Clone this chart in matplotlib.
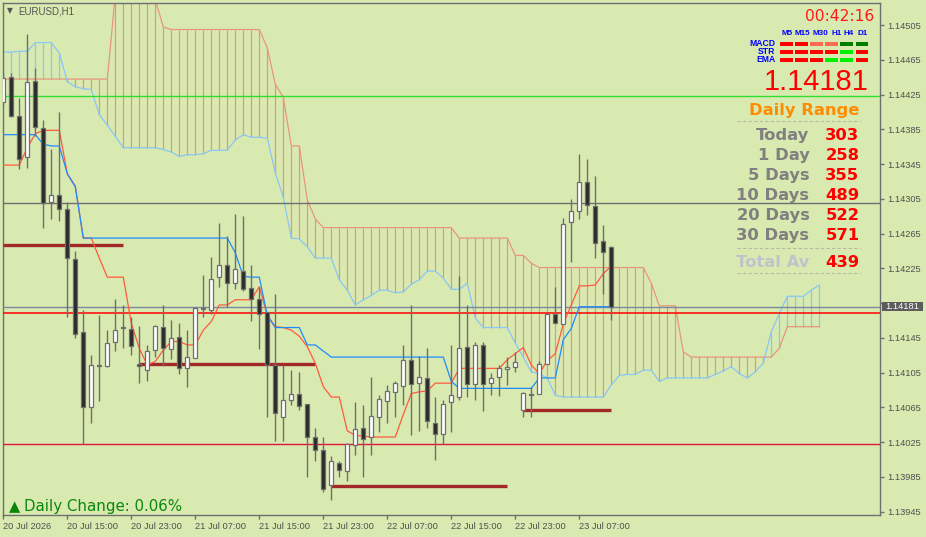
import matplotlib
matplotlib.use("Agg")
import matplotlib.pyplot as plt
from matplotlib.patches import Rectangle

W, H = 926, 537
BG = "#d9eab1"

# EURUSD H1 candles (oldest first)
opens = [1.14417, 1.14445, 1.14400, 1.14353, 1.14441, 1.14387, 1.14301, 1.14310, 1.14293, 1.14236,
         1.14152, 1.14066, 1.14113, 1.14113, 1.14140, 1.14156, 1.14155, 1.14115, 1.14108, 1.14131,
         1.14158, 1.14132, 1.14146, 1.14111, 1.14122, 1.14178, 1.14177, 1.14215, 1.14229, 1.14208,
         1.14222, 1.14202, 1.14190, 1.14175, 1.14114, 1.14054, 1.14074, 1.14080, 1.14069, 1.14031,
         1.14016, 1.13976, 1.14001, 1.13992, 1.14022, 1.14041, 1.14031, 1.14054, 1.14073, 1.14083,
         1.14090, 1.14120, 1.14093, 1.14099, 1.14047, 1.14034, 1.14071, 1.14077, 1.14135, 1.14092,
         1.14137, 1.14093, 1.14100, 1.14109, 1.14112, 1.14062, 1.14079, 1.14081, 1.14115, 1.14173,
         1.14161, 1.14279, 1.14291, 1.14324, 1.14297, 1.14257, 1.14250]
highs = [1.14450, 1.14450, 1.14421, 1.14495, 1.14456, 1.14396, 1.14362, 1.14405, 1.14301, 1.14245,
         1.14177, 1.14125, 1.14171, 1.14154, 1.14190, 1.14183, 1.14169, 1.14159, 1.14137, 1.14160,
         1.14183, 1.14166, 1.14162, 1.14154, 1.14181, 1.14217, 1.14238, 1.14277, 1.14262, 1.14288,
         1.14285, 1.14229, 1.14204, 1.14175, 1.14196, 1.14114, 1.14108, 1.14106, 1.14069, 1.14041,
         1.14031, 1.14009, 1.14003, 1.14024, 1.14071, 1.14068, 1.14100, 1.14079, 1.14091, 1.14096,
         1.14137, 1.14183, 1.14124, 1.14134, 1.14077, 1.14074, 1.14137, 1.14216, 1.14183, 1.14140,
         1.14140, 1.14105, 1.14114, 1.14123, 1.14129, 1.14083, 1.14089, 1.14118, 1.14174, 1.14204,
         1.14283, 1.14305, 1.14357, 1.14351, 1.14331, 1.14275, 1.14251]
lows = [1.14413, 1.14399, 1.14340, 1.14341, 1.14377, 1.14272, 1.14282, 1.14280, 1.14169, 1.14145,
        1.14023, 1.14047, 1.14072, 1.14112, 1.14130, 1.14134, 1.14125, 1.14093, 1.14096, 1.14123,
        1.14113, 1.14121, 1.14104, 1.14089, 1.14122, 1.14169, 1.14173, 1.14204, 1.14181, 1.14201,
        1.14199, 1.14164, 1.14132, 1.14054, 1.14026, 1.14026, 1.14068, 1.14062, 1.13985, 1.14003,
        1.13968, 1.13958, 1.13985, 1.13980, 1.14010, 1.13985, 1.14010, 1.14037, 1.14047, 1.14054,
        1.14068, 1.14033, 1.14038, 1.14041, 1.14005, 1.14023, 1.14037, 1.14074, 1.14077, 1.14074,
        1.14061, 1.14079, 1.14078, 1.14091, 1.14106, 1.14054, 1.14054, 1.14081, 1.14115, 1.14162,
        1.14161, 1.14232, 1.14282, 1.14286, 1.14237, 1.14196, 1.14166]
closes = [1.14444, 1.14400, 1.14351, 1.14440, 1.14388, 1.14300, 1.14310, 1.14293, 1.14237, 1.14150,
          1.14066, 1.14114, 1.14113, 1.14139, 1.14154, 1.14156, 1.14136, 1.14113, 1.14130, 1.14159,
          1.14133, 1.14145, 1.14111, 1.14123, 1.14179, 1.14178, 1.14213, 1.14229, 1.14208, 1.14224,
          1.14201, 1.14190, 1.14173, 1.14114, 1.14059, 1.14074, 1.14081, 1.14067, 1.14031, 1.14016,
          1.13971, 1.14003, 1.13993, 1.14023, 1.14040, 1.14029, 1.14055, 1.14075, 1.14084, 1.14093,
          1.14120, 1.14092, 1.14100, 1.14049, 1.14035, 1.14069, 1.14079, 1.14134, 1.14092, 1.14137,
          1.14092, 1.14099, 1.14110, 1.14112, 1.14117, 1.14082, 1.14081, 1.14115, 1.14173, 1.14162,
          1.14276, 1.14291, 1.14325, 1.14298, 1.14254, 1.14244, 1.14181]

# Ichimoku
tenkan = [1.14344, 1.14344, 1.14344, 1.14364, 1.14380, 1.14384, 1.14384, 1.14384, 1.14334, 1.14320,
          1.14260, 1.14260, 1.14237, 1.14215, 1.14215, 1.14215, 1.14162, 1.14133, 1.14114, 1.14118,
          1.14131, 1.14141, 1.14141, 1.14137, 1.14137, 1.14154, 1.14164, 1.14183, 1.14183, 1.14189,
          1.14189, 1.14189, 1.14204, 1.14171, 1.14158, 1.14157, 1.14154, 1.14147, 1.14135, 1.14116,
          1.14089, 1.14077, 1.14077, 1.14038, 1.14033, 1.14032, 1.14031, 1.14031, 1.14031, 1.14031,
          1.14057, 1.14081, 1.14083, 1.14084, 1.14093, 1.14093, 1.14093, 1.14110, 1.14110, 1.14110,
          1.14110, 1.14110, 1.14110, 1.14120, 1.14127, 1.14134, 1.14114, 1.14104, 1.14119, 1.14127,
          1.14161, 1.14183, 1.14205, 1.14205, 1.14206, 1.14219, 1.14228]
kijun = [1.14379, 1.14379, 1.14379, 1.14379, 1.14379, 1.14368, 1.14366, 1.14366, 1.14334, 1.14319,
         1.14260, 1.14260, 1.14260, 1.14260, 1.14260, 1.14260, 1.14260, 1.14260, 1.14260, 1.14260,
         1.14260, 1.14260, 1.14260, 1.14260, 1.14260, 1.14260, 1.14260, 1.14260, 1.14260, 1.14243,
         1.14216, 1.14215, 1.14215, 1.14171, 1.14157, 1.14157, 1.14157, 1.14157, 1.14137, 1.14137,
         1.14130, 1.14123, 1.14123, 1.14123, 1.14123, 1.14123, 1.14123, 1.14123, 1.14123, 1.14123,
         1.14123, 1.14123, 1.14123, 1.14123, 1.14123, 1.14123, 1.14095, 1.14087, 1.14087, 1.14087,
         1.14087, 1.14087, 1.14087, 1.14087, 1.14087, 1.14087, 1.14087, 1.14099, 1.14099, 1.14099,
         1.14143, 1.14156, 1.14181, 1.14181, 1.14181, 1.14181, 1.14181]
span_a = [1.14443, 1.14443, 1.14443, 1.14443, 1.14443, 1.14443, 1.14443, 1.14443, 1.14443, 1.14443,
          1.14443, 1.14443, 1.14443, 1.14443, 1.14540, 1.14560, 1.14560, 1.14560, 1.14560, 1.14534,
          1.14503, 1.14500, 1.14500, 1.14500, 1.14500, 1.14500, 1.14500, 1.14500, 1.14500, 1.14500,
          1.14500, 1.14500, 1.14500, 1.14479, 1.14437, 1.14422, 1.14366, 1.14366, 1.14304, 1.14282,
          1.14272, 1.14272, 1.14272, 1.14272, 1.14272, 1.14272, 1.14272, 1.14272, 1.14272, 1.14272,
          1.14272, 1.14272, 1.14272, 1.14272, 1.14272, 1.14272, 1.14272, 1.14260, 1.14260, 1.14260,
          1.14260, 1.14260, 1.14260, 1.14260, 1.14240, 1.14240, 1.14231, 1.14226, 1.14226, 1.14226,
          1.14226, 1.14226, 1.14226, 1.14226, 1.14226, 1.14226, 1.14226, 1.14226, 1.14226, 1.14226,
          1.14226, 1.14208, 1.14182, 1.14182, 1.14182, 1.14129, 1.14123, 1.14123, 1.14123, 1.14123,
          1.14123, 1.14123, 1.14123, 1.14123, 1.14123, 1.14123, 1.14123, 1.14133, 1.14158, 1.14158,
          1.14158, 1.14158, 1.14158]
span_b = [1.14474, 1.14474, 1.14475, 1.14475, 1.14485, 1.14485, 1.14485, 1.14473, 1.14440, 1.14434,
          1.14432, 1.14431, 1.14402, 1.14390, 1.14377, 1.14364, 1.14364, 1.14364, 1.14364, 1.14364,
          1.14362, 1.14359, 1.14354, 1.14356, 1.14356, 1.14357, 1.14361, 1.14361, 1.14361, 1.14373,
          1.14379, 1.14376, 1.14376, 1.14375, 1.14335, 1.14307, 1.14260, 1.14259, 1.14250, 1.14237,
          1.14237, 1.14237, 1.14212, 1.14200, 1.14183, 1.14189, 1.14194, 1.14200, 1.14200, 1.14197,
          1.14198, 1.14207, 1.14212, 1.14222, 1.14222, 1.14214, 1.14201, 1.14201, 1.14208, 1.14168,
          1.14157, 1.14157, 1.14157, 1.14157, 1.14139, 1.14123, 1.14106, 1.14104, 1.14099, 1.14079,
          1.14077, 1.14077, 1.14077, 1.14077, 1.14077, 1.14077, 1.14091, 1.14102, 1.14103, 1.14103,
          1.14108, 1.14108, 1.14095, 1.14099, 1.14099, 1.14099, 1.14099, 1.14099, 1.14099, 1.14103,
          1.14107, 1.14112, 1.14104, 1.14099, 1.14106, 1.14116, 1.14152, 1.14173, 1.14193, 1.14193,
          1.14193, 1.14200, 1.14206]

# horizontal levels
green_level = 1.14424
grey_level = 1.14300
bid = 1.14181
red_level = 1.14174
crimson_level = 1.14023
# (start bar, end bar, price)
low_segments = [(0, 15, 1.14252), (17, 39, 1.14115), (41, 63, 1.13975), (65, 76, 1.14062)]

time_labels = ["20 Jul 2026", "20 Jul 15:00", "20 Jul 23:00", "21 Jul 07:00", "21 Jul 15:00",
               "21 Jul 23:00", "22 Jul 07:00", "22 Jul 15:00", "22 Jul 23:00", "23 Jul 07:00"]
time_ticks = [0, 8, 16, 24, 32, 40, 48, 56, 64, 72]
# 1.14185 sits under the bid box, so only its tick mark is shown
price_ticks = [1.14505, 1.14465, 1.14425, 1.14385, 1.14345, 1.14305, 1.14265, 1.14225, 1.14185,
               1.14145, 1.14105, 1.14065, 1.14025, 1.13985, 1.13945]
price_tick_labels = ["1.14505", "1.14465", "1.14425", "1.14385", "1.14345", "1.14305", "1.14265",
                     "1.14225", "", "1.14145", "1.14105", "1.14065", "1.14025", "1.13985", "1.13945"]

range_labels = ["Today", "1 Day", "5 Days", "10 Days", "20 Days", "30 Days"]
range_values = [303, 258, 355, 489, 522, 571]
total_av = 439
daily_change = 0.06
clock = "00:42:16"
timeframes = ["M5", "M15", "M30", "H1", "H4", "D1"]
signal_rows = ["MACD", "STR", "EMA"]
signals = [["dn", "dn", "wdn", "wdn", "up", "up"],
           ["dn", "dn", "dn", "dn", "sup", "dn"],
           ["dn", "dn", "dn", "sup", "sup", "dn"]]
sig_colors = {"dn": "#ff0000", "wdn": "#ff6a50", "up": "#007c00", "sup": "#00f000"}

WICK = "#6e6e6e"
SALMON = "#e8957a"
LBLUE = "#87c6f5"


def fx(x):
    return x / W


def fy(y):
    return 1 - y / H


fig = plt.figure(figsize=(W / 100, H / 100), dpi=100, facecolor=BG)
ax = fig.add_axes([fx(2.7), fy(515.3), (880 - 2.7) / W, (515.3 - 2.7) / H])
ax.set_facecolor(BG)
ax.set_xlim(-0.075, 109.59)
ax.set_ylim(1.139409, 1.145309)

# cloud
nc = len(span_a)
cx = list(range(nc))
hatch_cols = [SALMON if span_a[i] >= span_b[i] else LBLUE for i in range(nc)]
ax.vlines(cx, [min(a, b) for a, b in zip(span_a, span_b)],
          [max(a, b) for a, b in zip(span_a, span_b)], colors=hatch_cols, lw=0.9, zorder=1)
ax.plot(cx, span_a, color=SALMON, lw=0.9, zorder=2)
ax.plot(cx, span_b, color=LBLUE, lw=0.9, zorder=2)

# horizontal lines
ax.axhline(green_level, color="#2ee02e", lw=1, zorder=3)
ax.axhline(grey_level, color="#6e6e6e", lw=1, zorder=3)
ax.axhline(bid, color="#7a88a0", lw=1, zorder=3)
ax.axhline(red_level, color="#ff0000", lw=1.1, zorder=3)
ax.axhline(crimson_level, color="#e0143c", lw=1, zorder=3)
for s, e, p in low_segments:
    ax.hlines(p, s, e, color="#a3282a", lw=2.4, zorder=3)

n = len(opens)
bx = list(range(n))
ax.plot(bx, tenkan, color="#ff5a3c", lw=0.9, zorder=4)
ax.plot(bx, kijun, color="#1e8cff", lw=0.9, zorder=4)

# candles
ax.vlines(bx, lows, highs, color=WICK, lw=1, zorder=5)
for i in range(n):
    o, c = opens[i], closes[i]
    if o == c:
        ax.hlines(o, i - 0.32, i + 0.32, color=WICK, lw=1.6, zorder=6)
        continue
    fill = "white" if c > o else "#2a2a2a"
    ax.add_patch(Rectangle((i - 0.27, min(o, c)), 0.54, abs(c - o),
                           facecolor=fill, edgecolor=WICK, lw=0.9, zorder=6))

for sp in ax.spines.values():
    sp.set_color("#6e6e6e")
    sp.set_linewidth(1)

ax.yaxis.tick_right()
ax.set_yticks(price_ticks)
ax.set_yticklabels(price_tick_labels)
ax.set_xticks(time_ticks)
ax.set_xticklabels(time_labels)
ax.tick_params(axis="both", direction="out", length=3, width=1, color="#6e6e6e",
               labelsize=6.7, labelcolor="#505050", pad=2)
for lbl in ax.get_xticklabels():
    lbl.set_ha("left")
    lbl.set_fontfamily("Liberation Sans")
for lbl in ax.get_yticklabels():
    lbl.set_fontfamily("Liberation Sans")

# bid price box
fig.add_artist(Rectangle((fx(881.7), fy(310.7)), (923.3 - 881.7) / W, 9.2 / H,
                         transform=fig.transFigure, facecolor="#5c5c5c", edgecolor="none", zorder=10))
fig.text(fx(902.5), fy(306.3), "%.5f" % bid, color="white", fontsize=6.7, family="Liberation Sans",
         ha="center", va="center", zorder=11)

# top-left symbol
fig.text(fx(6.5), fy(13.5), "▼", color="#555555", fontsize=5.5, ha="left", va="baseline")
fig.text(fx(18.3), fy(14), "EURUSD,H1", color="#555555", fontsize=7, family="Liberation Sans",
         ha="left", va="baseline")

# clock
fig.text(fx(874), fy(20.7), clock, color="#ff1a1a", fontsize=11.2, family="DejaVu Sans",
         ha="right", va="baseline")

# signal matrix
tf_x = [786.8, 802.5, 820.0, 836.2, 848.3, 862.5]
for k, tf in enumerate(timeframes):
    fig.text(fx(tf_x[k]), fy(35), tf, color="#0000ff", fontsize=5.8, family="Liberation Sans",
             weight="bold", ha="center", va="baseline")
row_y = [42, 50, 58]
for r, name in enumerate(signal_rows):
    fig.text(fx(775.5), fy(row_y[r] + 3.8), name, color="#0000ff", fontsize=6.2,
             family="Liberation Sans", weight="bold", ha="right", va="baseline")
    for k in range(len(timeframes)):
        fig.add_artist(Rectangle((fx(780 + 15.1 * k), fy(row_y[r] + 3.8)), 12.6 / W, 3.8 / H,
                                 transform=fig.transFigure, facecolor=sig_colors[signals[r][k]],
                                 edgecolor="none", zorder=10))

# big price
fig.text(fx(868.5), fy(90), "%.5f" % bid, color="#ff0000", fontsize=21, family="Liberation Sans",
         ha="right", va="baseline")

# daily range panel
fig.text(fx(859.5), fy(115), "Daily Range", color="#ff8c00", fontsize=11.8, family="DejaVu Sans",
         weight="bold", ha="right", va="baseline")
for yy in (121, 248.3, 273.3):
    fig.add_artist(plt.Line2D([fx(737), fx(860)], [fy(yy), fy(yy)], transform=fig.transFigure,
                              color="#b4b8a4", lw=0.8, ls=(0, (3, 2)), zorder=10))
for r, (lab, val) in enumerate(zip(range_labels, range_values)):
    yb = 140 + 20 * r
    fig.text(fx(809.5), fy(yb), lab, color="#808080", fontsize=11.8, family="DejaVu Sans",
             weight="bold", ha="right", va="baseline")
    fig.text(fx(859.5), fy(yb), str(val), color="#ff0000", fontsize=11.8, family="DejaVu Sans",
             weight="bold", ha="right", va="baseline")
fig.text(fx(809.5), fy(267.3), "Total Av", color="#c2c2cc", fontsize=11.8, family="DejaVu Sans",
         weight="bold", ha="right", va="baseline")
fig.text(fx(859.5), fy(267.3), str(total_av), color="#ff0000", fontsize=11.8, family="DejaVu Sans",
         weight="bold", ha="right", va="baseline")

# daily change
fig.text(fx(8.5), fy(511), "▲", color="#0a870a", fontsize=10.5, family="DejaVu Sans",
         ha="left", va="baseline")
fig.text(fx(24.5), fy(511), "Daily Change: %.2f%%" % daily_change, color="#0a870a", fontsize=10.8,
         family="DejaVu Sans", ha="left", va="baseline")

fig.savefig("out.png", dpi=100, facecolor=BG)
